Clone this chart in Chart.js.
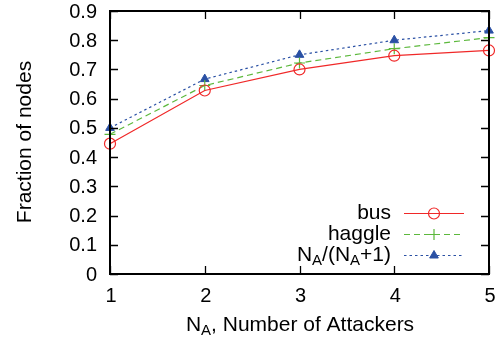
<!DOCTYPE html>
<html><head><meta charset="utf-8">
<script src="https://cdn.jsdelivr.net/npm/chart.js@4"></script>
<style>html,body{margin:0;padding:0;background:#fff}#wrap{width:504px;height:343px}</style>
</head><body><div id="wrap"><canvas id="c" width="504" height="343"></canvas></div>
<script>
const categories = [1, 2, 3, 4, 5];
const busValues = [0.446, 0.628, 0.700, 0.747, 0.765];
const haggleValues = [0.478, 0.645, 0.722, 0.771, 0.809];
const boundValues = [0.500, 0.667, 0.750, 0.800, 0.833];
const xTickLabels = ['1', '2', '3', '4', '5'];
const yTickLabels = ['0', '0.1', '0.2', '0.3', '0.4', '0.5', '0.6', '0.7', '0.8', '0.9'];

const FONT = '"Liberation Sans", Arial, Helvetica, sans-serif';
const RED = '#f02828', GREEN = '#5cb83c', BLUE = '#2a50a4';

function pts(vals){ return categories.map((x,i)=>({x:x, y:vals[i]})); }

function drawSubText(ctx, parts, x, y, align){
  const big = '21px ' + FONT, small = '15px ' + FONT;
  let w = 0;
  parts.forEach(p=>{ ctx.font = p[1]?small:big; w += ctx.measureText(p[0]).width; });
  let cx = align==='right' ? x - w : (align==='center' ? x - w/2 : x);
  ctx.textAlign = 'left'; ctx.textBaseline = 'middle';
  parts.forEach(p=>{ ctx.font = p[1]?small:big; ctx.fillText(p[0], cx, y + (p[1]?6:0)); cx += ctx.measureText(p[0]).width; });
}

const decor = {
  id: 'decor',
  afterDatasetsDraw(chart){
    const ctx = chart.ctx, a = chart.chartArea;
    const xs = chart.scales.x, ys = chart.scales.y;
    ctx.save();
    ctx.strokeStyle = '#000'; ctx.lineWidth = 1.3;
    xTickLabels.forEach(t=>{
      const px = Math.round(xs.getPixelForValue(parseFloat(t)))+0.5;
      ctx.beginPath(); ctx.moveTo(px, a.bottom); ctx.lineTo(px, a.bottom-8);
      ctx.moveTo(px, a.top); ctx.lineTo(px, a.top+8); ctx.stroke();
    });
    yTickLabels.forEach(t=>{
      const py = Math.round(ys.getPixelForValue(parseFloat(t)))+0.5;
      ctx.beginPath(); ctx.moveTo(a.left, py); ctx.lineTo(a.left+8, py);
      ctx.moveTo(a.right, py); ctx.lineTo(a.right-8, py); ctx.stroke();
    });
    ctx.lineWidth = 2;
    ctx.strokeRect(a.left, a.top, a.right-a.left, a.bottom-a.top);
    ctx.fillStyle = '#000'; ctx.font = '20px ' + FONT;
    ctx.textAlign = 'right'; ctx.textBaseline = 'middle';
    yTickLabels.forEach(t=>{ ctx.fillText(t, a.left-13, ys.getPixelForValue(parseFloat(t))+1); });
    ctx.textAlign = 'center';
    xTickLabels.forEach(t=>{ ctx.fillText(t, xs.getPixelForValue(parseFloat(t))+1, a.bottom+22); });
    ctx.save(); ctx.translate(25, 142); ctx.rotate(-Math.PI/2);
    ctx.font = '21px ' + FONT;
    ctx.textAlign = 'center'; ctx.fillText('Fraction of nodes', 0, 0); ctx.restore();
    drawSubText(ctx, [['N',0],['A',1],[', Number of Attackers',0]], 300, 325, 'center');
    const rows = [
      {parts:[['bus',0]], dash:[]},
      {parts:[['haggle',0]], dash:[6,4]},
      {parts:[['N',0],['A',1],['/(N',0],['A',1],['+1)',0]], dash:[2.5,3]}
    ];
    const styles = ['circle','cross','triangle'];
    rows.forEach((r,i)=>{
      const y = 213 + i*21;
      const ds = chart.data.datasets[i];
      ctx.fillStyle = '#000';
      drawSubText(ctx, r.parts, 391, y, 'right');
      ctx.strokeStyle = ds.borderColor; ctx.lineWidth = 1.2; ctx.setLineDash(r.dash);
      ctx.beginPath(); ctx.moveTo(404, y+0.5); ctx.lineTo(464, y+0.5); ctx.stroke();
      ctx.setLineDash([]);
      ctx.strokeStyle = ds.pointBorderColor; ctx.lineWidth = ds.pointBorderWidth;
      ctx.fillStyle = ds.pointBackgroundColor;
      Chart.helpers.drawPoint(ctx, {pointStyle:styles[i], radius:ds.pointRadius, borderWidth:ds.pointBorderWidth, rotation:0}, 434, y+0.5);
    });
    ctx.restore();
  }
};

new Chart(document.getElementById('c'), {
  type: 'line',
  data: {
    datasets: [
      {label:'bus', data:pts(busValues), borderColor:RED, borderWidth:1.2, pointStyle:'circle', pointRadius:5.5, pointBorderWidth:1.2, pointBorderColor:RED, pointBackgroundColor:'rgba(0,0,0,0)', tension:0, clip:false},
      {label:'haggle', data:pts(haggleValues), borderColor:GREEN, borderWidth:1.2, borderDash:[6,4], pointStyle:'cross', pointRadius:5.5, pointBorderWidth:1.2, pointBorderColor:GREEN, pointBackgroundColor:GREEN, tension:0, clip:false},
      {label:'N_A/(N_A+1)', data:pts(boundValues), borderColor:BLUE, borderWidth:1.2, borderDash:[2.5,3], pointStyle:'triangle', pointRadius:5, pointBorderWidth:1, pointBorderColor:BLUE, pointBackgroundColor:BLUE, tension:0, clip:false}
    ]
  },
  options: {
    responsive:false, animation:false, devicePixelRatio:1,
    layout:{padding:{left:110, right:15, top:11, bottom:69}},
    plugins:{legend:{display:false}, tooltip:{enabled:false}},
    scales:{
      x:{type:'linear', min:1, max:5, display:false, grid:{display:false}},
      y:{type:'linear', min:0, max:0.9, display:false, grid:{display:false}}
    }
  },
  plugins:[decor]
});
</script></body></html>
